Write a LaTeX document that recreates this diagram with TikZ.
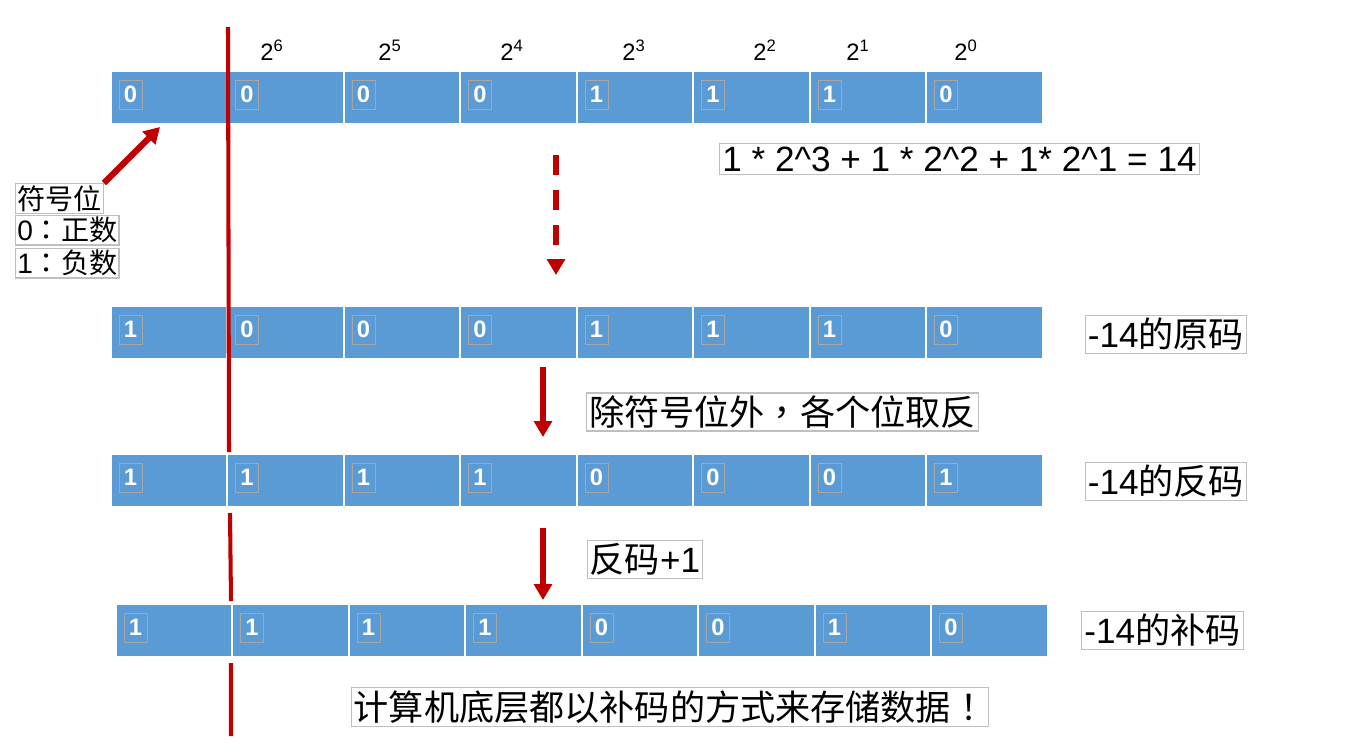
\documentclass[tikz,border=0pt]{standalone}
\usepackage{fontspec}
\setmainfont{Liberation Sans}
\newfontfamily\cjk{Noto Sans CJK SC}
\newfontfamily\cjkpunct{Noto Sans CJK TC}
\usetikzlibrary{positioning,arrows.meta}

\definecolor{cellblue}{HTML}{5B9BD5}
\definecolor{signred}{HTML}{C00000}
\definecolor{boxgrey}{HTML}{BFBFBF}

\begin{document}
\begin{tikzpicture}[x=0.02cm,y=-0.02cm,
  cell/.style={fill=cellblue,draw=white,line width=1pt,minimum width=2.33cm,minimum height=1.06cm,inner sep=0pt,anchor=north west},
  bit/.style={draw=gray!70,line width=0.5pt,text=white,minimum width=0.46cm,minimum height=0.58cm,inner sep=0pt,font=\fontsize{13.5}{14}\selectfont\bfseries},
  weight/.style={font=\fontsize{13.5}{16}\selectfont},
  note/.style={draw=boxgrey,fill=white,line width=0.6pt,inner sep=1.5pt,font=\fontsize{20}{24}\selectfont},
  small note/.style={draw=boxgrey,fill=white,line width=0.6pt,inner sep=1pt,anchor=north west,font=\fontsize{16}{19}\selectfont},
  red arrow/.style={draw=signred,line width=3.5pt,-{Triangle[length=9pt,width=10pt]}}]
\useasboundingbox (0,0) rectangle (1358,751);

% the four rows of bits
\foreach \row/\ytop/\xleft/\bits in {1/70/110/{0,0,0,0,1,1,1,0},2/305/110/{1,0,0,0,1,1,1,0},3/453/110/{1,1,1,1,0,0,0,1},4/603/115/{1,1,1,1,0,0,1,0}} {
  \foreach \b [count=\i] in \bits {
    \node[cell] (c\row-\i) at ({\xleft+(\i-1)*116.5},\ytop) {};
    \node[bit] (b\row-\i) at ([xshift=0.41cm,yshift=-0.49cm]c\row-\i.north west) {\b};
  }
}

% place values
\foreach \x/\p in {272/6,390/5,512/4,634/3,765/2,858/1,966/0}
  \node[weight] (w\p) at (\x,50) {2\textsuperscript{\p}};

% sign bit line
\coordinate (s1) at (228,27);
\coordinate (s2) at (229,452);
\coordinate (s3) at (230,513);
\coordinate (s4) at (231,601);
\coordinate (s5) at (231,663);
\coordinate (s6) at (231,736);
\draw[signred,line width=2.3pt] (s1) -- (s2) (s3) -- (s4) (s5) -- (s6);

% notes
\node[small note] (sign) at (15,183) {\cjk 符号位};
\node[small note] (pos) at (15,215) {0{\cjkpunct ：}{\cjk 正数}};
\node[small note] (neg) at (15,248) {1{\cjkpunct ：}{\cjk 负数}};
\node[note] (sum) at (959.5,159) {1 * 2\^{}3 + 1 * 2\^{}2 + 1* 2\^{}1 = 14};
\node[note] (orig) at (1166,334.5) {-14{\cjk 的原码}};
\node[note] (inv) at (1166,481.5) {-14{\cjk 的反码}};
\node[note] (comp) at (1162.5,630.5) {-14{\cjk 的补码}};
\node[note] (flip) at (782.5,412) {{\cjk 除符号位外}{\cjkpunct ，}{\cjk 各个位取反}};
\node[note] (plus) at (645,559.5) {{\cjk 反码}+1};
\node[note] (store) at (670,707) {{\cjk 计算机底层都以补码的方式来存储数据}{\cjkpunct ！}};

% arrows
\coordinate (t0) at (160,127);
\draw[red arrow] (sign.north east) -- (t0);
\coordinate (d1) at (556,155);
\coordinate (d2) at (556,275);
\draw[red arrow,dash pattern=on 0.4cm off 0.3cm] (d1) -- (d2);
\coordinate (a1) at (543,367);
\coordinate (a2) at (543,437);
\draw[red arrow,line width=3pt] (a1) -- (a2);
\coordinate (a3) at (543,528);
\coordinate (a4) at (543,600);
\draw[red arrow,line width=3pt] (a3) -- (a4);
\end{tikzpicture}
\end{document}
